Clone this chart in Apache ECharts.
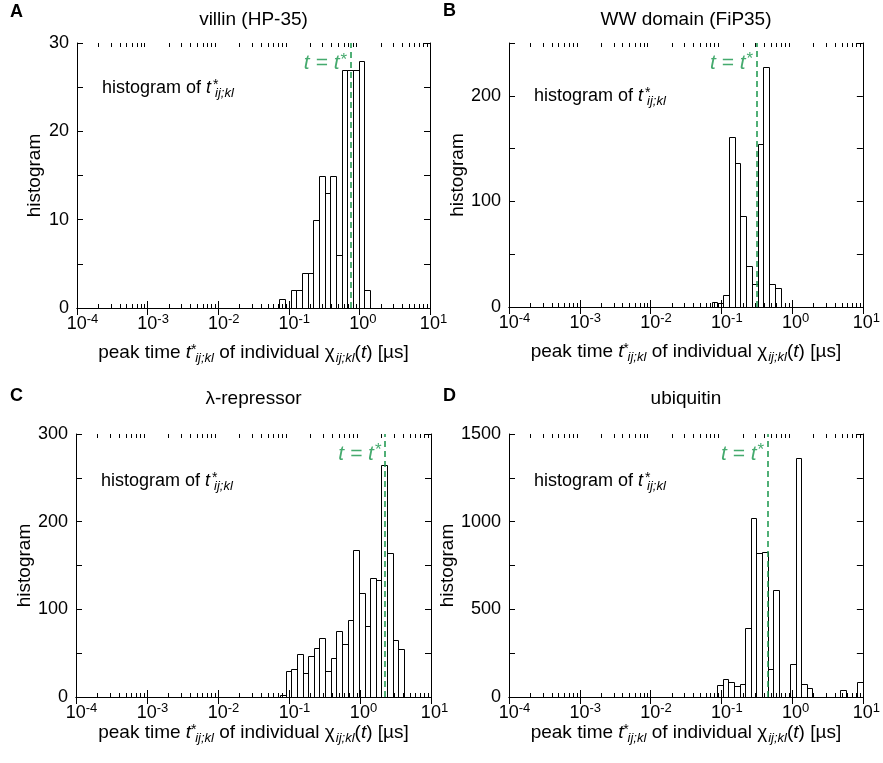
<!DOCTYPE html>
<html><head><meta charset="utf-8">
<script src="https://cdn.jsdelivr.net/npm/echarts@6/dist/echarts.min.js"></script>
<style>html,body{margin:0;padding:0;background:#fff}#c{width:883px;height:763px}</style>
</head><body><div id="c"></div>
<script>
const FONT = '"Liberation Sans", Arial, Helvetica, sans-serif';
const GREEN = '#17954a';

// ---- data (bin edges in µs, counts) ----
const titleA = 'villin (HP-35)';
const edgesA = [0.0736, 0.0885, 0.1064, 0.1279, 0.1538, 0.1853, 0.2228, 0.2679, 0.3221, 0.3878, 0.4667, 0.561, 0.676, 0.813, 0.977, 1.175, 1.41];
const countsA = [1, 0, 2, 2, 4, 4, 10, 15, 13, 15, 6, 27, 27, 27, 28, 2];
const tStarA = 0.75;

const titleB = 'WW domain (FiP35)';
const edgesB = [0.0731, 0.0881, 0.1061, 0.1279, 0.1541, 0.1857, 0.2239, 0.2698, 0.3251, 0.3918, 0.4721, 0.569, 0.686];
const countsB = [5, 4, 11, 161, 136, 86, 39, 22, 154, 227, 22, 18];
const tStarB = 0.315;

const titleC = 'λ-repressor';
const edgesC = [0.0748, 0.0897, 0.1076, 0.1294, 0.1552, 0.1866, 0.2239, 0.2685, 0.3228, 0.3873, 0.4645, 0.5585, 0.670, 0.805, 0.966, 1.159, 1.393, 1.671, 2.005, 2.409, 2.891, 3.467, 4.17];
const countsC = [2, 30, 32, 49, 27, 47, 56, 67, 30, 45, 75, 61, 88, 168, 119, 81, 136, 133, 265, 164, 65, 55];
const tStarC = 2.25;

const titleD = 'ubiquitin';
const edgesD = [0.0876, 0.1051, 0.1261, 0.1513, 0.1815, 0.2178, 0.2613, 0.3134, 0.3760, 0.4512, 0.5413, 0.6495, 0.7792, 0.935, 1.122, 1.346, 1.615, 1.937, 2.324, 2.789, 3.347, 4.016, 4.819, 5.78, 6.94, 8.33, 9.99];
const countsD = [67, 103, 84, 63, 76, 392, 1020, 819, 828, 160, 613, 0, 0, 188, 1361, 76, 53, 0, 0, 0, 0, 0, 38, 0, 0, 84];
const tStarD = 0.451;

// y axis: max, tick step, labelled step
const yAxisA = [30, 5, 10];
const yAxisB = [250, 50, 100];
const yAxisC = [300, 50, 100];
const yAxisD = [1500, 250, 500];

const X_MIN = 1e-4, X_MAX = 10;

const panels = [
  {letter: 'A', title: titleA, edges: edgesA, counts: countsA, tStar: tStarA, y: yAxisA,
   grid: {left: 77, top: 43, width: 353, height: 265}, titleY: 20, letterPos: [10, 12], nameGap: 33, noteDy: 45},
  {letter: 'B', title: titleB, edges: edgesB, counts: countsB, tStar: tStarB, y: yAxisB,
   grid: {left: 509, top: 43, width: 354, height: 264}, titleY: 20, letterPos: [443, 11], nameGap: 33, noteDy: 53},
  {letter: 'C', title: titleC, edges: edgesC, counts: countsC, tStar: tStarC, y: yAxisC,
   grid: {left: 76, top: 434, width: 355, height: 263}, titleY: 399, letterPos: [10, 396], nameGap: 23, noteDy: 47},
  {letter: 'D', title: titleD, edges: edgesD, counts: countsD, tStar: tStarD, y: yAxisD,
   grid: {left: 509, top: 434, width: 354, height: 263}, titleY: 399, letterPos: [443, 396], nameGap: 23, noteDy: 47}
];

// minor log ticks (axis decoration)
const minorTicks = [];
for (let e = -4; e <= 0; e++) for (let m = 2; m <= 9; m++) minorTicks.push([m * Math.pow(10, e), 0]);

const richSub = {
  it: {fontStyle: 'italic', fontSize: 19, fontFamily: FONT, color: '#000'},
  n: {fontSize: 19, fontFamily: FONT, color: '#000'},
  sup: {fontSize: 14, fontFamily: FONT, color: '#000', padding: [0, 0, 6, 2], width: 1},
  sub: {fontSize: 13, fontStyle: 'italic', fontFamily: FONT, color: '#000', padding: [11, 0, 0, 1]}
};

const option = {
  animation: false,
  backgroundColor: '#fff',
  textStyle: {fontFamily: FONT},
  grid: [], xAxis: [], yAxis: [], series: [], graphic: []
};

panels.forEach((p, i) => {
  const [yMax, yStep, yLab] = p.y;
  option.grid.push(Object.assign({containLabel: false}, p.grid));
  const axisLine = {show: true, lineStyle: {color: '#000', width: 1}};
  option.xAxis.push({
    type: 'log', logBase: 10, gridIndex: i, min: X_MIN, max: X_MAX, position: 'bottom',
    axisLine, splitLine: {show: false},
    axisTick: {inside: true, length: 7, lineStyle: {color: '#000'}},
    axisLabel: {
      color: '#000', margin: 5,
      formatter: v => {
        const e = Math.round(Math.log10(v));
        return (e < 0 ? '{bn|10}' : '{bp|10}') + '{s|' + e + '}';
      },
      rich: {
        bn: {fontSize: 18, fontFamily: FONT, color: '#000', padding: [0, 0, 0, 11]},
        bp: {fontSize: 18, fontFamily: FONT, color: '#000', padding: [0, 0, 0, 7]},
        s: {fontSize: 13, fontFamily: FONT, color: '#000', padding: [0, 0, 9, 0]}
      }
    },
    name: 'peak time {it|t}{sup|*}{sub|ij;kl} of individual χ{sub|ij;kl}{n|(}{it|t}{n|)} [µs]',
    nameLocation: 'middle', nameGap: p.nameGap,
    nameTextStyle: {fontSize: 19, fontFamily: FONT, color: '#000', rich: richSub}
  });
  option.xAxis.push({
    type: 'log', logBase: 10, gridIndex: i, min: X_MIN, max: X_MAX, position: 'top',
    axisLine, splitLine: {show: false}, axisLabel: {show: false},
    axisTick: {inside: true, length: 7, lineStyle: {color: '#000'}}
  });
  const yCommon = {
    type: 'value', gridIndex: i, min: 0, max: yMax, interval: yStep,
    axisLine, splitLine: {show: false},
    axisTick: {inside: true, length: 6, lineStyle: {color: '#000'}}
  };
  option.yAxis.push(Object.assign({}, yCommon, {
    position: 'left',
    axisLabel: {color: '#000', fontSize: 18, fontFamily: FONT, margin: 8,
      formatter: v => (v % yLab === 0 ? String(v) : '')},
    name: 'histogram', nameLocation: 'middle', nameGap: 33,
    nameTextStyle: {fontSize: 19, fontFamily: FONT, color: '#000'}
  }));
  option.yAxis.push(Object.assign({}, yCommon, {position: 'right', axisLabel: {show: false}}));

  const bars = [];
  p.counts.forEach((c, k) => { if (c > 0) bars.push([p.edges[k], p.edges[k + 1], c]); });

  option.series.push({
    type: 'custom', xAxisIndex: 2 * i, yAxisIndex: 2 * i, data: bars,
    encode: {x: [0, 1], y: 2}, z: 3, silent: true,
    renderItem: (params, api) => {
      const p0 = api.coord([api.value(0), 0]);
      const p1 = api.coord([api.value(1), api.value(2)]);
      const x0 = Math.round(p0[0]) + 0.5, x1 = Math.round(p1[0]) + 0.5;
      const yb = Math.round(p0[1]) + 0.5, yt = Math.round(p1[1]) + 0.5;
      return {type: 'rect', shape: {x: x0, y: yt, width: x1 - x0, height: yb - yt},
        style: {fill: 'none', stroke: '#000', lineWidth: 1}};
    }
  });

  option.series.push({
    type: 'custom', xAxisIndex: 2 * i, yAxisIndex: 2 * i, data: minorTicks,
    encode: {x: 0, y: 1}, z: 4, silent: true, clip: false,
    renderItem: (params, api) => {
      const x = Math.round(api.coord([api.value(0), 0])[0]) + 0.5;
      const cs = params.coordSys;
      const yb = cs.y + cs.height, yt = cs.y;
      return {type: 'group', children: [
        {type: 'line', shape: {x1: x, y1: yb, x2: x, y2: yb - 4}, style: {stroke: '#000', lineWidth: 1}},
        {type: 'line', shape: {x1: x, y1: yt, x2: x, y2: yt + 4}, style: {stroke: '#000', lineWidth: 1}}
      ]};
    }
  });

  option.series.push({
    type: 'scatter', xAxisIndex: 2 * i, yAxisIndex: 2 * i, silent: true, z: 5,
    data: [[p.tStar, yMax * 0.925]], symbolSize: 1, itemStyle: {color: 'rgba(0,0,0,0)'},
    label: {show: true, position: 'left', distance: 3, formatter: '{i|t = t}{s|*}',
      rich: {
        i: {fontSize: 21, fontStyle: 'italic', fontFamily: FONT, color: GREEN},
        s: {fontSize: 17, fontFamily: FONT, color: GREEN, padding: [0, 0, 6, 1]}
      }},
    markLine: {silent: true, symbol: 'none', label: {show: false},
      lineStyle: {color: GREEN, type: [6, 4], width: 1.5},
      data: [{xAxis: p.tStar}]}
  });

  const g = p.grid;
  option.graphic.push({
    type: 'text', x: g.left + g.width / 2, y: p.titleY, silent: true,
    style: {text: p.title, font: '19px ' + FONT, fill: '#000', align: 'center', verticalAlign: 'middle',
      textAlign: 'center', textVerticalAlign: 'middle'}
  });
  option.graphic.push({
    type: 'text', x: p.letterPos[0], y: p.letterPos[1], silent: true,
    style: {text: p.letter, font: 'bold 18px ' + FONT, fill: '#000', align: 'left', verticalAlign: 'middle',
      textAlign: 'left', textVerticalAlign: 'middle'}
  });
  option.graphic.push({
    type: 'text', x: g.left + 25, y: g.top + p.noteDy, silent: true,
    style: {
      text: 'histogram of {it|t}{sup|*}{sub|ij;kl}',
      font: '18px ' + FONT, fill: '#000', align: 'left', verticalAlign: 'middle',
      textAlign: 'left', textVerticalAlign: 'middle',
      rich: {
        it: {fontStyle: 'italic', fontSize: 18, fontFamily: FONT, fill: '#000'},
        sup: {fontSize: 14, fontFamily: FONT, fill: '#000', padding: [0, 0, 6, 2], width: 1},
        sub: {fontSize: 13, fontStyle: 'italic', fontFamily: FONT, fill: '#000', padding: [11, 0, 0, 1]}
      }
    }
  });
});

const chart = echarts.init(document.getElementById('c'), null, {renderer: 'canvas'});
chart.setOption(option);
</script>
</body></html>
